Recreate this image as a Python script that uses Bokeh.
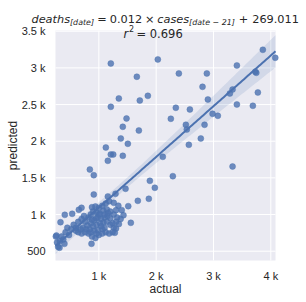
import math
import numpy as np
from bokeh.plotting import figure
from bokeh.models import Label, Range1d
from bokeh.embed import file_html
from bokeh.resources import INLINE

# ---- data ----
sparse_actual = [1209, 2029, 1663, 1349, 1209, 1715, 1855, 1483, 1418, 1698, 1383, 1506, 1122, 1209, 1251,
                 1418, 1157, 843, 912, 2116, 2396, 2884, 2809, 2902, 3408, 3861, 4078, 3729, 3747, 3774,
                 3333, 3286, 3408, 3687, 2343, 2588, 2256, 2518, 2535, 2984, 3076, 2844, 2779, 2570, 3333,
                 2291, 1890, 1977, 1872, 1680, 1466, 1513, 1558, 1279, 912, 1157, 1291, 698, 651, 535,
                 406, 331, 872, 314, 260]
sparse_predicted = [3060, 3115, 2879, 2583, 2469, 2555, 2619, 2310, 2197, 2146, 2037, 1965, 1914, 1819, 1819,
                    1801, 1733, 1614, 1536, 1787, 2924, 2924, 2742, 2569, 3033, 3247, 3138, 2947, 2933, 2665,
                    2705, 2651, 2501, 2483, 2456, 2433, 2306, 2224, 2160, 2374, 2347, 2224, 2037, 1951, 1655,
                    1523, 1460, 1365, 1215, 1187, 1351, 1114, 887, 751, 1273, 1246, 1283, 1092, 1065, 1010,
                    996, 895, 601, 546, 714]
blob_actual = [880, 940, 1000, 1060, 1120, 1180, 1260, 1340, 1400, 1430, 1380, 1350, 1300, 1180, 1120, 1060,
               1000, 940, 880, 820, 760, 700, 640, 600, 820, 860, 900, 960, 1020, 1080, 1140, 1200, 1260,
               1320, 1300, 1240, 1200, 1150, 1100, 1040, 980, 920, 860, 800, 760, 720, 680, 780, 840, 900,
               960, 1020, 1080, 1140, 1200, 1260, 1100, 1040, 980, 920, 860, 960, 1060, 1240, 1000, 950,
               1160, 880, 1100, 1300]
blob_predicted = [1100, 1110, 1090, 1120, 1150, 1180, 1160, 1120, 1060, 990, 940, 870, 810, 740, 760, 800,
                  720, 680, 700, 740, 760, 740, 760, 780, 960, 1000, 1040, 1030, 1010, 1050, 1070, 1040, 1000,
                  960, 900, 880, 950, 980, 960, 940, 960, 920, 880, 850, 900, 820, 800, 800, 800, 840,
                  860, 880, 890, 900, 860, 820, 820, 840, 790, 780, 760, 740, 740, 760, 1000, 950,
                  1020, 930, 1000, 1060]
chain_actual = [250, 270, 290, 320, 350, 380, 420, 450, 480, 520, 560, 600, 640, 700, 740, 400]
chain_predicted = [700, 620, 560, 640, 700, 660, 760, 820, 720, 800, 860, 820, 900, 940, 980, 600]

actual = sparse_actual + blob_actual + chain_actual
predicted = sparse_predicted + blob_predicted + chain_predicted

x_ticks = [1000, 2000, 3000, 4000]
x_tick_labels = ["1 k", "2 k", "3 k", "4 k"]
y_ticks = [500, 1000, 1500, 2000, 2500, 3000, 3500]
y_tick_labels = ["500", "1 k", "1.5 k", "2 k", "2.5 k", "3 k", "3.5 k"]

# data limits of the plot area
x_lo, x_hi = 244, 4082
y_lo, y_hi = 373, 3510

# layout: canvas size and the plot area's edges on it (px)
W, H = 306, 302
PL, PR, PT, PB = 55, 275, 30, 260
xpp = (x_hi - x_lo) / (PR - PL)
ypp = (y_hi - y_lo) / (PB - PT)

BLUE = "#4C72B0"
TXT = "#262626"
TICK_FONT = "Liberation Sans"

p = figure(width=W, height=H, output_backend="svg", toolbar_location=None,
           x_range=Range1d(x_lo - PL * xpp, x_hi + (W - PR) * xpp),
           y_range=Range1d(y_lo - (H - PB) * ypp, y_hi + PT * ypp),
           x_axis_type=None, y_axis_type=None, min_border=0)
p.background_fill_color = "white"
p.border_fill_color = "white"
p.outline_line_color = None

# plot background and white grid at the tick values
p.quad(left=[x_lo], right=[x_hi], bottom=[y_lo], top=[y_hi], fill_color="#EAEAF2", line_color=None)
p.segment(x0=[x_lo] * len(y_ticks), x1=[x_hi] * len(y_ticks), y0=y_ticks, y1=y_ticks,
          line_color="white", line_width=1)
p.segment(x0=x_ticks, x1=x_ticks, y0=[y_lo] * len(x_ticks), y1=[y_hi] * len(x_ticks),
          line_color="white", line_width=1)

p.scatter(actual, predicted, size=6, fill_color=BLUE, fill_alpha=0.8, line_color=BLUE, line_alpha=0.8,
          line_width=0.5)

# regression with 95% confidence band
x = np.array(actual, dtype=float)
y = np.array(predicted, dtype=float)
slope, intercept = np.polyfit(x, y, 1)
xs = np.linspace(x_lo, x_hi, 120)
ys = slope * xs + intercept
n = len(x)
resid = y - (slope * x + intercept)
s = np.sqrt(np.sum(resid ** 2) / (n - 2))
xm = x.mean()
sxx = np.sum((x - xm) ** 2)
se = s * np.sqrt(1.0 / n + (xs - xm) ** 2 / sxx)
t = 1.975
p.varea(x=xs, y1=ys - t * se, y2=ys + t * se, fill_color=BLUE, fill_alpha=0.15)
p.line(xs, ys, line_color=BLUE, line_width=2)

# ---- tick labels and axis labels ----
for tv, lab in zip(x_ticks, x_tick_labels):
    p.add_layout(Label(x=tv, y=H - 275, x_units="data", y_units="screen", text=lab,
                       text_font=TICK_FONT, text_font_size="11px", text_color=TXT,
                       text_align="center", text_baseline="middle"))
for tv, lab in zip(y_ticks, y_tick_labels):
    p.add_layout(Label(x=45, y=tv, x_units="screen", y_units="data", text=lab,
                       text_font=TICK_FONT, text_font_size="11px", text_color=TXT,
                       text_align="right", text_baseline="middle"))
p.add_layout(Label(x=(x_lo + x_hi) / 2, y=H - 288, x_units="data", y_units="screen", text="actual",
                   text_font=TICK_FONT, text_font_size="12px", text_color=TXT,
                   text_align="center", text_baseline="middle"))
p.add_layout(Label(x=12, y=(y_lo + y_hi) / 2, x_units="screen", y_units="data", text="predicted",
                   angle=math.pi / 2, text_font=TICK_FONT, text_font_size="12px", text_color=TXT,
                   text_align="center", text_baseline="middle"))

# ---- title (math-like, built from pieces) ----
F = 11.3
S = 0.7 * F


def put(cx, cy, text, style, size):
    p.add_layout(Label(x=cx, y=H - cy, x_units="screen", y_units="screen",
                       text=text, text_font="DejaVu Sans", text_font_style=style,
                       text_font_size=f"{size}px", text_color=TXT, text_baseline="alphabetic",
                       text_align="left"))


segs = [  # text, style, scale, dy, width_em, pad_em
    ("deaths", "italic", 1.0, 0, 3.41, 0),
    ("[date]", "italic", 0.7, 3, 3.035, 0),
    ("=", "normal", 1.0, 0, 0.838, 0.278),
    ("0.012", "normal", 1.0, 0, 2.862, 0),
    ("×", "normal", 1.0, 0, 0.838, 0.25),
    ("cases", "italic", 1.0, 0, 2.82, 0),
    ("[date − 21]", "italic", 0.7, 3, 5.78, 0),
    ("+", "normal", 1.0, 0, 0.838, 0.35),
    ("269.011", "normal", 1.0, 0, 4.134, 0),
]
cur = 31.0
base1 = 18.5
for text, style, sc, dy, w, pad in segs:
    cur += pad * F
    put(cur, base1 + dy, text, style, round(F * sc, 2))
    cur += w * F * sc + pad * F

base2 = 33.0
put(123, base2, "r", "italic", 11.5)
put(128.5, base2 - 5, "2", "normal", 8)
put(136, base2, "= 0.696", "normal", 11.5)

open("out.html", "w").write(file_html(p, INLINE))
